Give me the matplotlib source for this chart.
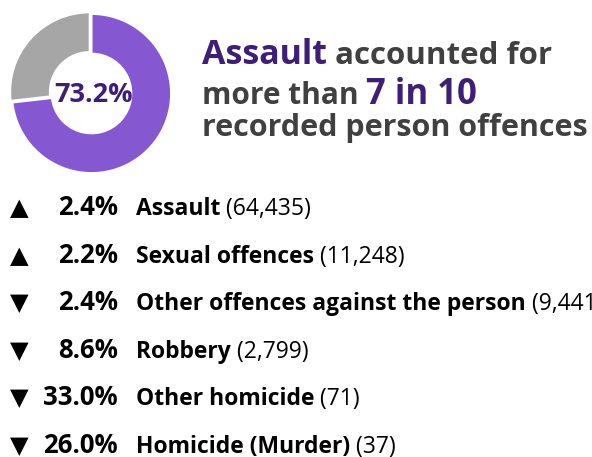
import matplotlib
matplotlib.use("Agg")
import matplotlib.pyplot as plt

# ---- data ----
assault_share = 73.2
categories = ["Assault", "Sexual offences", "Other offences against the person",
              "Robbery", "Other homicide", "Homicide (Murder)"]
pct_change = [2.4, 2.2, -2.4, -8.6, -33.0, -26.0]
counts = [64435, 11248, 9441, 2799, 71, 37]

PURPLE = "#8558D2"
DARK_PURPLE = "#3F1E78"
GRAY = "#A6A6A6"
DARK_GRAY = "#404040"
FONT = ["Open Sans", "DejaVu Sans"]

W, H = 592, 457
fig = plt.figure(figsize=(W / 100, H / 100), dpi=100)
fig.patch.set_facecolor("white")

def fx(px):
    return px / W

def fy(py):
    return 1 - py / H

# donut
cx, cy, r = 91.5, 93.5, 82
ax = fig.add_axes([fx(cx - r), fy(cy + r), 2 * r / W, 2 * r / H])
ax.pie([assault_share, 100 - assault_share], colors=[PURPLE, GRAY],
       startangle=90, counterclock=False, explode=[0, 0.03],
       wedgeprops=dict(width=0.5, edgecolor="white", linewidth=1.5))
ax.set_aspect("equal")
ax.set_xlim(-1.03, 1.03)
ax.set_ylim(-1.03, 1.03)
ax.text(0.02, -0.02, f"{assault_share:.1f}%", ha="center", va="center",
        fontsize=19.5, fontweight="bold", color=DARK_PURPLE, family=FONT)

fig.canvas.draw()
renderer = fig.canvas.get_renderer()

def run(parts, x_px, y_px):
    x = x_px
    for txt, size, color, weight in parts:
        t = fig.text(fx(x), fy(y_px), txt, fontsize=size, color=color,
                     fontweight=weight, family=FONT, ha="left", va="baseline")
        bb = t.get_window_extent(renderer)
        x += bb.width
    return x

run([("Assault", 24.5, DARK_PURPLE, "bold"), (" accounted for", 22.5, DARK_GRAY, "bold")], 202, 64)
run([("more than ", 21.5, DARK_GRAY, "bold"), ("7 in 10", 25, DARK_PURPLE, "bold")], 202, 104)
run([("recorded person offences", 22, DARK_GRAY, "bold")], 202, 136)

# list
y0, dy = 215, 47.6
for i, (cat, ch, n) in enumerate(zip(categories, pct_change, counts)):
    y = y0 + i * dy
    arrow = "\u25B2" if ch > 0 else "\u25BC"
    fig.text(fx(10), fy(y), arrow, fontsize=17.5, color="black",
             family=["DejaVu Sans"], ha="left", va="baseline")
    fig.text(fx(118), fy(y), f"{abs(ch):.1f}%", fontsize=18.5, color="black",
             fontweight="bold", family=FONT, ha="right", va="baseline")
    run([(cat, 16.5, "black", "bold"), (f" ({n:,})", 16.5, "black", "normal")], 136, y)

fig.savefig("out.png", dpi=100, facecolor="white")
